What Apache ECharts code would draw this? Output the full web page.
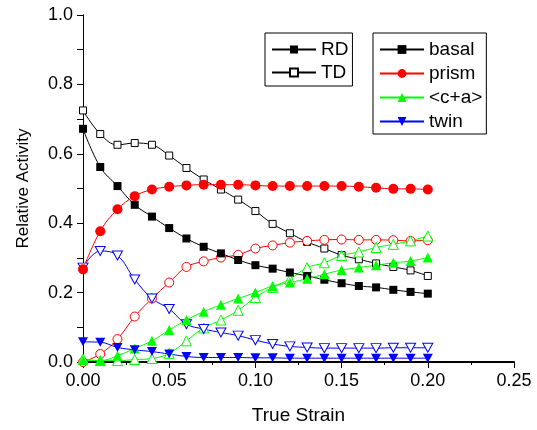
<!DOCTYPE html>
<html>
<head>
<meta charset="utf-8">
<script src="https://cdn.jsdelivr.net/npm/echarts@6/dist/echarts.min.js"></script>
<style>
  html, body { margin: 0; padding: 0; background: #fff; }
  #chart { width: 537px; height: 430px; }
</style>
</head>
<body>
<div id="chart"></div>
<script>
// true strain values (x)
const strain = [0.00, 0.01, 0.02, 0.03, 0.04, 0.05, 0.06, 0.07, 0.08, 0.09, 0.10,
                0.11, 0.12, 0.13, 0.14, 0.15, 0.16, 0.17, 0.18, 0.19, 0.20];

// RD = filled symbols, TD = open symbols
const basalRD = [0.672, 0.562, 0.507, 0.453, 0.419, 0.386, 0.356, 0.332, 0.313, 0.294, 0.279,
                 0.269, 0.258, 0.248, 0.237, 0.227, 0.219, 0.215, 0.208, 0.202, 0.197];
const basalTD = [0.725, 0.657, 0.626, 0.631, 0.626, 0.595, 0.559, 0.526, 0.497, 0.468, 0.435,
                 0.398, 0.371, 0.346, 0.327, 0.308, 0.296, 0.284, 0.274, 0.264, 0.248];
const prismRD = [0.267, 0.377, 0.440, 0.478, 0.497, 0.505, 0.509, 0.511, 0.511, 0.511, 0.509,
                 0.507, 0.507, 0.507, 0.507, 0.507, 0.505, 0.502, 0.499, 0.499, 0.497];
const prismTD = [0.000, 0.023, 0.066, 0.131, 0.183, 0.229, 0.274, 0.290, 0.301, 0.309, 0.327,
                 0.336, 0.344, 0.349, 0.352, 0.353, 0.352, 0.352, 0.351, 0.349, 0.351];
const caRD    = [0.005, 0.004, 0.018, 0.039, 0.061, 0.092, 0.121, 0.145, 0.165, 0.183, 0.200,
                 0.219, 0.229, 0.240, 0.253, 0.265, 0.272, 0.279, 0.286, 0.291, 0.301];
const caTD    = [0.009, 0.004, 0.004, 0.007, 0.010, 0.025, 0.061, 0.098, 0.121, 0.149, 0.186,
                 0.215, 0.239, 0.272, 0.286, 0.307, 0.317, 0.330, 0.339, 0.349, 0.363];
const twinRD  = [0.058, 0.057, 0.042, 0.035, 0.030, 0.023, 0.016, 0.013, 0.013, 0.013, 0.012,
                 0.012, 0.011, 0.011, 0.011, 0.011, 0.011, 0.011, 0.011, 0.011, 0.011];
const twinTD  = [0.272, 0.320, 0.307, 0.238, 0.183, 0.153, 0.109, 0.095, 0.085, 0.076, 0.063,
                 0.052, 0.045, 0.042, 0.040, 0.040, 0.040, 0.040, 0.041, 0.041, 0.041];

const font = 'Liberation Sans, Arial, sans-serif';
const downTri = 'path://M0,0L10,0L5,9Z';

function pairs(ys) {
    return strain.map((x, i) => [x, ys[i]]);
}

// one data series; open markers get a white fill
function curve(name, ys, color, symbol, size, open) {
    return {
        name: name,
        type: 'line',
        data: pairs(ys),
        smooth: 0.4,
        symbol: symbol,
        symbolSize: size,
        lineStyle: {color: color, width: 1},
        itemStyle: open
            ? {color: '#fff', borderColor: color, borderWidth: 1}
            : {color: color, borderColor: color, borderWidth: 0},
        emphasis: {disabled: true}
    };
}

// empty series, only there to feed the legends
function key(name, color, symbol, open) {
    return {
        name: name,
        type: 'line',
        data: [],
        symbol: symbol,
        lineStyle: {color: color, width: 1},
        itemStyle: open
            ? {color: '#fff', borderColor: color, borderWidth: 1}
            : {color: color, borderColor: color, borderWidth: 0}
    };
}

const chart = echarts.init(document.getElementById('chart'));
chart.setOption({
    animation: false,
    backgroundColor: '#fff',
    grid: {left: 83, right: 23, top: 15, bottom: 67},
    legend: [
        {
            data: ['RD', 'TD'],
            orient: 'vertical',
            left: 265, top: 33,
            padding: [7, 4, 4, 6],
            itemWidth: 44, itemHeight: 10, itemGap: 4, itemTextGap: 6,
            borderColor: '#000', borderWidth: 1, backgroundColor: '#fff',
            textStyle: {fontFamily: font, fontSize: 19, color: '#000'},
            selectedMode: false
        },
        {
            data: ['basal', 'prism', '<c+a>', 'twin'],
            orient: 'vertical',
            left: 373, top: 33,
            padding: [7, 4, 3, 6],
            itemWidth: 44, itemHeight: 11, itemGap: 5, itemTextGap: 6,
            borderColor: '#000', borderWidth: 1, backgroundColor: '#fff',
            textStyle: {fontFamily: font, fontSize: 19, color: '#000'},
            selectedMode: false
        }
    ],
    xAxis: [
        {
            type: 'value', position: 'bottom',
            min: 0, max: 0.25, interval: 0.05,
            name: 'True Strain', nameLocation: 'middle', nameGap: 44,
            nameTextStyle: {fontFamily: font, fontSize: 19, color: '#000'},
            axisLine: {lineStyle: {color: '#000', width: 2}},
            axisTick: {inside: false, length: 6, lineStyle: {color: '#000', width: 1}},
            minorTick: {show: true, splitNumber: 2, length: 3, lineStyle: {color: '#000'}},
            axisLabel: {margin: 10, fontFamily: font, fontSize: 18, color: '#000',
                        formatter: v => v.toFixed(2)},
            splitLine: {show: false}
        },
        {
            type: 'value', position: 'top',
            min: 0, max: 0.25, interval: 0.05,
            axisLine: {lineStyle: {color: '#000', width: 1}},
            axisTick: {inside: true, length: 5, lineStyle: {color: '#000'}},
            minorTick: {show: true, splitNumber: 2, length: 3, lineStyle: {color: '#000'}},
            axisLabel: {show: false},
            splitLine: {show: false}
        }
    ],
    yAxis: [
        {
            type: 'value', position: 'left',
            min: 0, max: 1, interval: 0.2,
            name: 'Relative Activity', nameLocation: 'middle', nameGap: 51,
            nameTextStyle: {fontFamily: font, fontSize: 17, color: '#000'},
            axisLine: {show: true, lineStyle: {color: '#000', width: 1}},
            axisTick: {show: true, inside: false, length: 6, lineStyle: {color: '#000'}},
            minorTick: {show: true, splitNumber: 2, length: 3, lineStyle: {color: '#000'}},
            axisLabel: {margin: 10, fontFamily: font, fontSize: 18, color: '#000',
                        formatter: v => v.toFixed(1)},
            splitLine: {show: false}
        },
        {
            type: 'value', position: 'right',
            min: 0, max: 1, interval: 0.1,
            axisLine: {show: true, lineStyle: {color: '#000', width: 1}},
            axisTick: {show: true, inside: true, length: 6, lineStyle: {color: '#000'}},
            axisLabel: {show: false},
            splitLine: {show: false}
        }
    ],
    series: [
        curve('basal TD', basalTD, '#000000', 'rect', 7, true),
        curve('prism TD', prismTD, '#ff0000', 'circle', 9, true),
        curve('<c+a> TD', caTD, '#00ff00', 'triangle', 10, true),
        curve('twin TD', twinTD, '#0000ff', downTri, [10, 9], true),
        curve('basal RD', basalRD, '#000000', 'rect', 8, false),
        curve('prism RD', prismRD, '#ff0000', 'circle', 10, false),
        curve('<c+a> RD', caRD, '#00ff00', 'triangle', 10, false),
        curve('twin RD', twinRD, '#0000ff', downTri, [10, 9], false),
        key('RD', '#000000', 'rect', false),
        key('TD', '#000000', 'rect', true),
        key('basal', '#000000', 'rect', false),
        key('prism', '#ff0000', 'circle', false),
        key('<c+a>', '#00ff00', 'triangle', false),
        key('twin', '#0000ff', downTri, false)
    ]
});
</script>
</body>
</html>
